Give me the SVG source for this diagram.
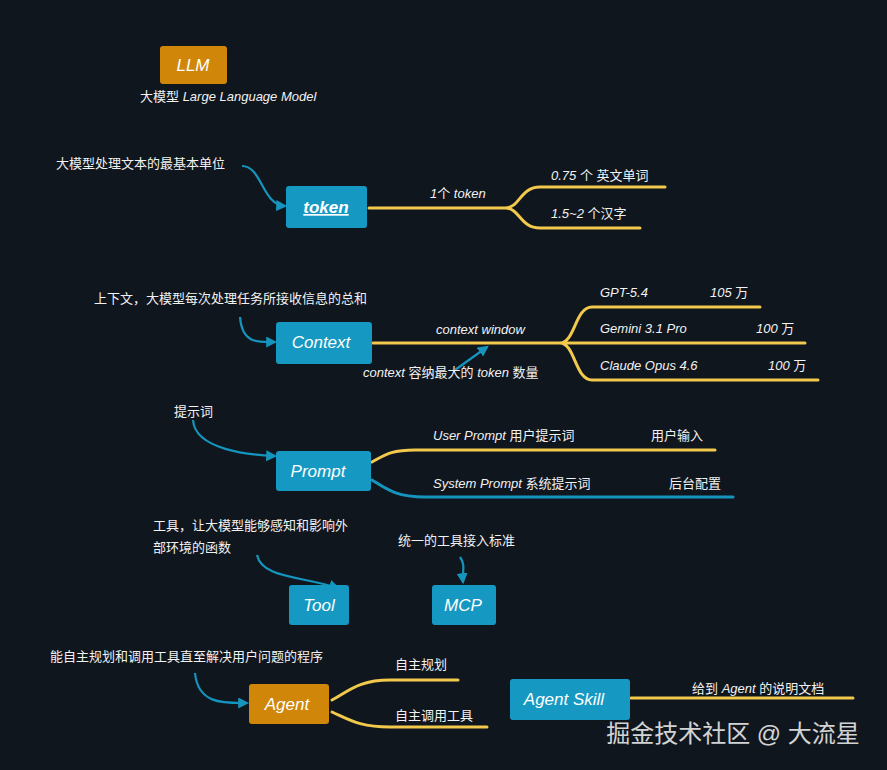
<svg xmlns="http://www.w3.org/2000/svg" width="887" height="770" viewBox="0 0 887 770">
<defs>
<style>
.t{font-family:"Liberation Sans","Noto Sans CJK SC",sans-serif;font-size:13px;fill:#f2f2f2}
.i{font-style:italic}
.n{font-family:"Liberation Sans",sans-serif;font-style:italic;font-size:17px;fill:#fff;text-anchor:middle}
.y{fill:none;stroke:#f2c94c;stroke-width:3;stroke-linecap:round}
.b{fill:none;stroke:#1595bd;stroke-width:3;stroke-linecap:round}
.a{fill:none;stroke:#1595bd;stroke-width:2.2}
.blue{fill:#1599c2}
.org{fill:#d08608}
</style>
<marker id="ah" viewBox="0 0 10 10" refX="8" refY="5" markerWidth="5" markerHeight="5" orient="auto"><path d="M0,0L10,5L0,10z" fill="#1595bd"/></marker>
</defs>
<rect width="887" height="770" fill="#0f161e"/>
<g id="connectors">
<path class="a" marker-end="url(#ah)" d="M242,166 C262,166 262,205 285,206"/>
<path class="y" d="M369,208 H505 C520,208 520,187 540,187 H665 M505,208 C520,208 520,228 540,228 H640"/>
<path class="a" marker-end="url(#ah)" d="M240,317 C242,345 260,342 275,342"/>
<path class="y" d="M373,343 H560 C575,343 575,307 592,307 H760 M560,343 H805 M560,343 C575,343 575,380 592,380 H818"/>
<path class="a" marker-end="url(#ah)" d="M455,370 L487,347"/>
<path class="a" marker-end="url(#ah)" d="M193,420 C195,450 250,455 275,456"/>
<path class="y" d="M372,462 C385,455 390,450 415,450 H715"/>
<path class="b" d="M372,480 C385,488 395,497 425,497 H733"/>
<path class="a" marker-end="url(#ah)" d="M257,555 C262,578 300,576 338,588"/>
<path class="a" marker-end="url(#ah)" d="M460,557 C466,565 462,572 463,582"/>
<path class="a" marker-end="url(#ah)" d="M195,673 C198,705 225,703 247,703"/>
<path class="y" d="M332,700 C350,690 360,680 390,680 H458 M332,712 C350,720 360,727 390,727 H487"/>
<path class="y" d="M631,698 H853"/>
</g>
<g id="llm"><rect class="org" x="160" y="46" width="67" height="38" rx="3"/><text class="n" x="193" y="71">LLM</text><text class="t" x="140" y="101">大模型 <tspan class="i">Large Language Model</tspan></text></g>
<g id="token"><rect class="blue" x="286" y="186" width="81" height="42" rx="3"/><text class="n" x="326" y="213" font-weight="bold" text-decoration="underline">token</text>
<text class="t" x="56" y="168">大模型处理文本的最基本单位</text>
<text class="t" x="430" y="198"><tspan class="i">1</tspan>个 <tspan class="i">token</tspan></text>
<text class="t" x="551" y="180"><tspan class="i">0.75</tspan> 个 英文单词</text>
<text class="t" x="551" y="218"><tspan class="i">1.5~2</tspan> 个汉字</text></g>
<g id="context"><rect class="blue" x="276" y="322" width="96" height="42" rx="3"/><text class="n" x="321" y="348">Context</text>
<text class="t" x="94" y="303">上下文，大模型每次处理任务所接收信息的总和</text>
<text class="t i" x="436" y="334">context window</text>
<text class="t" x="363" y="377"><tspan class="i">context</tspan> 容纳最大的 <tspan class="i">token</tspan> 数量</text>
<text class="t i" x="600" y="297">GPT-5.4</text><text class="t" x="710" y="297"><tspan class="i">105</tspan> 万</text>
<text class="t i" x="600" y="333">Gemini 3.1 Pro</text><text class="t" x="756" y="333"><tspan class="i">100</tspan> 万</text>
<text class="t i" x="600" y="370">Claude Opus 4.6</text><text class="t" x="768" y="370"><tspan class="i">100</tspan> 万</text></g>
<g id="prompt"><rect class="blue" x="276" y="451" width="95" height="40" rx="3"/><text class="n" x="318" y="477">Prompt</text>
<text class="t" x="174" y="416">提示词</text>
<text class="t" x="433" y="440"><tspan class="i">User Prompt</tspan> 用户提示词</text><text class="t" x="651" y="440">用户输入</text>
<text class="t" x="433" y="488"><tspan class="i">System Prompt</tspan> 系统提示词</text><text class="t" x="669" y="488">后台配置</text></g>
<g id="tool"><rect class="blue" x="289" y="585" width="60" height="40" rx="3"/><text class="n" x="319" y="611">Tool</text>
<text class="t" x="153" y="530">工具，让大模型能够感知和影响外</text><text class="t" x="153" y="552">部环境的函数</text></g>
<g id="mcp"><rect class="blue" x="432" y="585" width="64" height="40" rx="3"/><text class="n" x="463" y="611">MCP</text>
<text class="t" x="398" y="545">统一的工具接入标准</text></g>
<g id="agent"><rect class="org" x="249" y="684" width="80" height="40" rx="3"/><text class="n" x="287" y="710">Agent</text>
<text class="t" x="50" y="661">能自主规划和调用工具直至解决用户问题的程序</text>
<text class="t" x="395" y="669">自主规划</text><text class="t" x="395" y="720">自主调用工具</text></g>
<g id="skill"><rect class="blue" x="510" y="679" width="120" height="41" rx="3"/><text class="n" x="564" y="705">Agent Skill</text>
<text class="t" x="692" y="693">给到 <tspan class="i">Agent</tspan> 的说明文档</text></g>
<text x="733" y="742" font-family="Liberation Sans,Noto Sans CJK SC,sans-serif" font-size="24" fill="#e8e8e8" text-anchor="middle" opacity="0.9">掘金技术社区 @ 大流星</text>
</svg>
